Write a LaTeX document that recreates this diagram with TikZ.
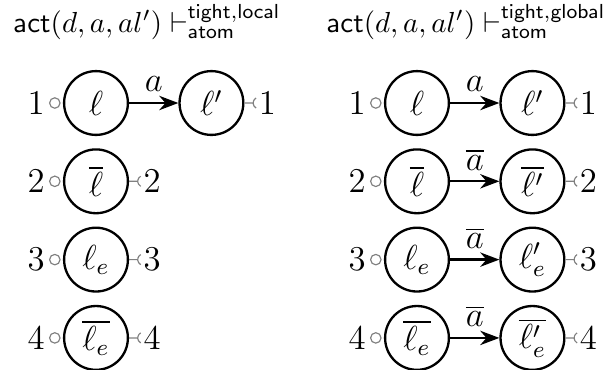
\documentclass[tikz,border=0pt]{standalone}
\usetikzlibrary{positioning,arrows.meta,calc}

\begin{document}
\begin{tikzpicture}[x=0.3448pt, y=0.3448pt, >=Stealth,
  node distance=4.2pt and 17pt,
  loc/.style={draw, circle, thick, minimum size=22pt, inner sep=0pt, font=\large},
  ball/.style={draw=gray, circle, thin, minimum size=3.6pt, inner sep=0pt},
  port/.style={draw=gray, thin},
  num/.style={inner sep=1pt, font=\large},
  act/.style={above, inner sep=3.5pt, font=\large}]
  \useasboundingbox (0,0) rectangle (611,-369);
  % titles
  \node[anchor=base] (lt) at (147,-32) {$\mathsf{act}(d, a, al') \vdash^{\mathsf{tight,local}}_{\mathsf{atom}}$};
  \node[anchor=base] (rt) at (466,-32) {$\mathsf{act}(d, a, al') \vdash^{\mathsf{tight,global}}_{\mathsf{atom}}$};
  % local
  \node[loc] (la1) at (96,-103) {$\ell$};
  \node[loc, right=of la1] (la1p) {$\ell'$};
  \node[loc, below=of la1] (la2) {$\overline{\ell}$};
  \node[loc, below=of la2] (la3) {$\ell_e$};
  \node[loc, below=of la3] (la4) {$\overline{\ell_e}$};
  \draw[->, thick] (la1) -- node[act] (la1-act) {$a$} (la1p);
  % global
  \node[loc] (ra1) at (417,-103) {$\ell$};
  \node[loc, right=of ra1] (ra1p) {$\ell'$};
  \node[loc, below=of ra1] (ra2) {$\overline{\ell}$};
  \node[loc, right=of ra2] (ra2p) {$\overline{\ell'}$};
  \node[loc, below=of ra2] (ra3) {$\ell_e$};
  \node[loc, right=of ra3] (ra3p) {$\ell'_e$};
  \node[loc, below=of ra3] (ra4) {$\overline{\ell_e}$};
  \node[loc, right=of ra4] (ra4p) {$\overline{\ell'_e}$};
  \draw[->, thick] (ra1) -- node[act] (ra1-act) {$a$} (ra1p);
  \draw[->, thick] (ra2) -- node[act] (ra2-act) {$\overline{a}$} (ra2p);
  \draw[->, thick] (ra3) -- node[act] (ra3-act) {$\overline{a}$} (ra3p);
  \draw[->, thick] (ra4) -- node[act] (ra4-act) {$\overline{a}$} (ra4p);
  % ports
  \foreach \n/\k in {la1/1,la2/2,la3/3,la4/4,ra1/1,ra2/2,ra3/3,ra4/4} {
    \node[ball, left=0.8pt of \n] (\n-b) {};
    \node[num, left=0.3pt of \n-b] (\n-in) {$\k$};
  }
  \foreach \n/\k in {la1p/1,la2/2,la3/3,la4/4,ra1p/1,ra2p/2,ra3p/3,ra4p/4} {
    \draw[port] (\n.east) -- ++(3pt,0) coordinate (\n-s)
      ++(60:2pt) arc[start angle=120, end angle=240, radius=2pt];
    \node[num, right=0.8pt of \n-s] (\n-out) {$\k$};
  }
\end{tikzpicture}
\end{document}
